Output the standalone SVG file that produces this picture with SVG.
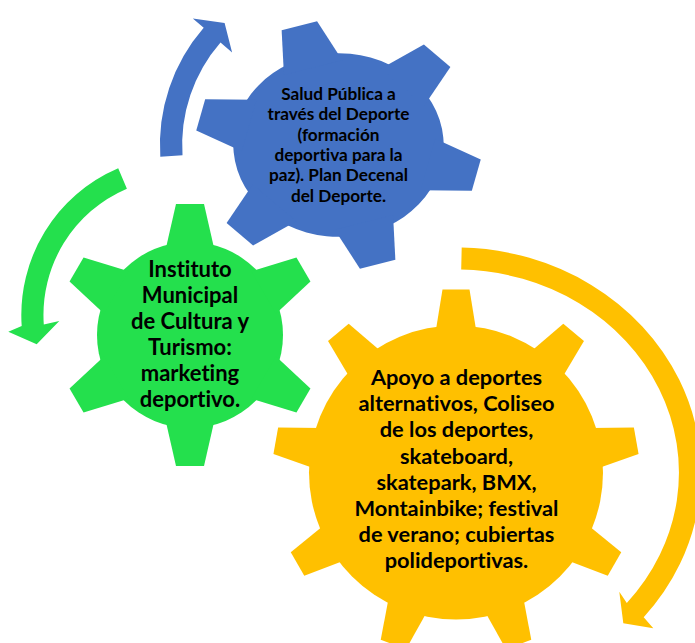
<svg xmlns="http://www.w3.org/2000/svg" xmlns:xlink="http://www.w3.org/1999/xlink" width="695" height="643" viewBox="0 0 695 643">
<style>
.t{font-family:Lato,"Liberation Sans",sans-serif;font-weight:bold;fill:#000;text-anchor:middle;font-variant-ligatures:none;font-feature-settings:"liga" 0}
.blue{fill:#4472C4}
.green{fill:#24E04D}
.yellow{fill:#FFC000}
</style>
<defs>
<polygon id="tooth6" points="-24.5,-85 -14,-131 14,-131 24.5,-85"/>
<polygon id="tooth6b" points="-28,-85 -17,-131 17,-131 28,-85"/>
<polygon id="tooth9" points="-20.5,-140 -13.5,-183 13.5,-183 20.5,-140"/>
</defs>
<rect width="695" height="643" fill="#fff"/>
<g id="connectors">
<path class="blue" d="M160.3,156.7 A178.6,178.6 0 0 1 203.7,27.8 L192.8,18.4 L224.6,22.9 L232.1,52.5 L220.5,42.5 A156.3,156.3 0 0 0 182.5,155.2 Z"/>
<path class="green" d="M118.2,168.3 A159.5,159.5 0 0 0 21.7,326.1 L8.3,331.7 L36.7,344.3 L59.3,321 L43.8,324.6 A137.3,137.3 0 0 1 126.9,188.7 Z"/>
<path class="yellow" d="M461.7,247.6 A245,225 0 0 1 643.7,617.2 L653.3,628.3 L623.3,623.3 L619.3,591.7 L626.8,603 A223,203 0 0 0 461.2,269.6 Z"/>
</g>
<g id="gear-salud">
<g class="blue" transform="translate(338.5,145) scale(1.084,0.947) rotate(-16)">
<circle r="97"/>
<use xlink:href="#tooth6b"/>
<use xlink:href="#tooth6b" transform="rotate(60)"/>
<use xlink:href="#tooth6b" transform="rotate(120)"/>
<use xlink:href="#tooth6b" transform="rotate(180)"/>
<use xlink:href="#tooth6b" transform="rotate(240)"/>
<use xlink:href="#tooth6b" transform="rotate(300)"/>
</g>
<text class="t" font-size="17.2"><tspan x="338.5" y="100">Salud Pública a</tspan><tspan x="338.5" y="120.3">través del Deporte</tspan><tspan x="338.5" y="140.6">(formación</tspan><tspan x="338.5" y="160.9">deportiva para la</tspan><tspan x="338.5" y="181.2">paz). Plan Decenal</tspan><tspan x="338.5" y="201.5">del Deporte.</tspan></text>
</g>
<g id="gear-instituto">
<g class="green" transform="translate(190,335)">
<circle r="93"/>
<use xlink:href="#tooth6"/>
<use xlink:href="#tooth6" transform="rotate(60)"/>
<use xlink:href="#tooth6" transform="rotate(120)"/>
<use xlink:href="#tooth6" transform="rotate(180)"/>
<use xlink:href="#tooth6" transform="rotate(240)"/>
<use xlink:href="#tooth6" transform="rotate(300)"/>
</g>
<text class="t" font-size="22"><tspan x="190" y="277">Instituto</tspan><tspan x="190" y="303">Municipal</tspan><tspan x="190" y="329">de Cultura y</tspan><tspan x="190" y="355">Turismo:</tspan><tspan x="190" y="381">marketing</tspan><tspan x="190" y="407">deportivo.</tspan></text>
</g>
<g id="gear-apoyo">
<g class="yellow" transform="translate(456,472.5)">
<circle r="147"/>
<use xlink:href="#tooth9"/>
<use xlink:href="#tooth9" transform="rotate(40)"/>
<use xlink:href="#tooth9" transform="rotate(80)"/>
<use xlink:href="#tooth9" transform="rotate(120)"/>
<use xlink:href="#tooth9" transform="rotate(160)"/>
<use xlink:href="#tooth9" transform="rotate(200)"/>
<use xlink:href="#tooth9" transform="rotate(240)"/>
<use xlink:href="#tooth9" transform="rotate(280)"/>
<use xlink:href="#tooth9" transform="rotate(320)"/>
</g>
<text class="t" font-size="21.8"><tspan x="456.5" y="385">Apoyo a deportes</tspan><tspan x="456.5" y="411.2">alternativos, Coliseo</tspan><tspan x="456.5" y="437.4">de los deportes,</tspan><tspan x="456.5" y="463.6">skateboard,</tspan><tspan x="456.5" y="489.8">skatepark, BMX,</tspan><tspan x="456.5" y="516">Montainbike; festival</tspan><tspan x="456.5" y="542.2">de verano; cubiertas</tspan><tspan x="456.5" y="568.4">polideportivas.</tspan></text>
</g>
</svg>
